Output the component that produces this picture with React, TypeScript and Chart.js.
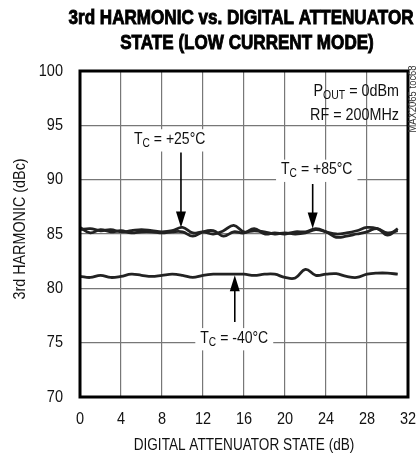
import React, { useEffect, useRef } from "react";
import { Chart, registerables } from "chart.js";

Chart.register(...registerables);

const states = [0, 1, 2, 3, 4, 5, 6, 7, 8, 9, 10, 11, 12, 13, 14, 15, 16, 17, 18, 19, 20, 21, 22, 23, 24, 25, 26, 27, 28, 29, 30, 31];
const harmonic25 = [85.4, 85.5, 85.3, 85.4, 85.2, 85.3, 85.4, 85.3, 85.2, 85.3, 85.6, 85.1, 85.2, 85.0, 85.3, 85.8, 85.2, 85.3, 85.2, 85.0, 85.1, 85.0, 85.1, 85.4, 85.2, 85.0, 85.1, 85.3, 85.6, 85.5, 85.1, 85.3];
const harmonic85 = [85.6, 85.1, 85.4, 85.2, 85.3, 85.1, 85.2, 85.2, 85.1, 85.2, 85.2, 84.8, 85.2, 85.3, 84.8, 85.2, 85.1, 85.5, 85.0, 85.1, 85.0, 85.2, 85.2, 85.5, 85.2, 84.7, 84.8, 85.0, 85.2, 85.5, 84.9, 85.5];
const harmonicM40 = [81.1, 81.0, 81.2, 81.0, 81.1, 81.3, 81.2, 81.1, 81.2, 81.3, 81.2, 81.0, 81.2, 81.3, 81.3, 81.3, 81.3, 81.2, 81.3, 81.3, 81.0, 80.95, 81.75, 81.2, 81.3, 81.35, 81.1, 81.0, 81.3, 81.4, 81.4, 81.3];

const xTicks = [0, 4, 8, 12, 16, 20, 24, 28, 32];
const yTicks = [70, 75, 80, 85, 90, 95, 100];

const titleLines = ["3rd HARMONIC vs. DIGITAL ATTENUATOR", "STATE (LOW CURRENT MODE)"];
const xTitle = "DIGITAL ATTENUATOR STATE (dB)";
const yTitle = "3rd HARMONIC (dBc)";

const FAMILY = "'Liberation Sans', Arimo, Arial, sans-serif";
const SX = 0.85;

type Part = { t: string; sub?: boolean };

function drawParts(
  ctx: CanvasRenderingContext2D,
  parts: Part[],
  x: number,
  y: number,
  align: "left" | "center" | "right",
  size: number,
  opts: { bold?: boolean; sx?: number; bg?: boolean; color?: string } = {}
) {
  const sx = opts.sx ?? SX;
  const subSize = Math.round(size * 0.72);
  const weight = opts.bold ? "bold " : "";
  let total = 0;
  const widths = parts.map((p) => {
    ctx.font = `${weight}${p.sub ? subSize : size}px ${FAMILY}`;
    const w = ctx.measureText(p.t).width * sx;
    total += w;
    return w;
  });
  let sx0 = x;
  if (align === "center") sx0 = x - total / 2;
  if (align === "right") sx0 = x - total;
  if (opts.bg) {
    ctx.fillStyle = "#fff";
    ctx.fillRect(sx0 - 5, y - size * 0.62, total + 10, size * 1.35);
  }
  ctx.fillStyle = opts.color ?? "#111";
  ctx.textBaseline = "middle";
  ctx.textAlign = "left";
  let cx = sx0;
  parts.forEach((p, i) => {
    ctx.save();
    ctx.font = `${weight}${p.sub ? subSize : size}px ${FAMILY}`;
    ctx.translate(cx, p.sub ? y + size * 0.24 : y);
    ctx.scale(sx, 1);
    ctx.fillText(p.t, 0, 0);
    ctx.restore();
    cx += widths[i];
  });
  return total;
}

function arrow(ctx: CanvasRenderingContext2D, x: number, y0: number, y1: number) {
  ctx.save();
  ctx.strokeStyle = "#000";
  ctx.fillStyle = "#000";
  ctx.lineWidth = 1.6;
  const dir = y1 > y0 ? 1 : -1;
  ctx.beginPath();
  ctx.moveTo(x, y0);
  ctx.lineTo(x, y1 - dir * 12);
  ctx.stroke();
  ctx.beginPath();
  ctx.moveTo(x, y1);
  ctx.lineTo(x - 5, y1 - dir * 16);
  ctx.lineTo(x + 5, y1 - dir * 16);
  ctx.closePath();
  ctx.fill();
  ctx.restore();
}

const decor = {
  id: "decor",
  afterDraw(chart: any) {
    const ctx: CanvasRenderingContext2D = chart.ctx;
    const xs = chart.scales.x;
    const ys = chart.scales.y;
    const a = chart.chartArea;
    ctx.save();

    // title (bold condensed)
    ctx.font = `bold 20px ${FAMILY}`;
    const tsx = 345 / ctx.measureText(titleLines[0]).width;
    [
      [titleLines[0], 241, 18],
      [titleLines[1], 247, 43],
    ].forEach(([s, x, y]) => {
      ctx.save();
      ctx.font = `bold 20px ${FAMILY}`;
      const w = ctx.measureText(s as string).width * tsx;
      ctx.translate((x as number) - w / 2, y as number);
      ctx.scale(tsx, 1);
      ctx.textAlign = "left";
      ctx.textBaseline = "middle";
      ctx.fillStyle = "#000";
      ctx.strokeStyle = "#000";
      ctx.lineWidth = 0.9;
      ctx.fillText(s as string, 0, 0);
      ctx.strokeText(s as string, 0, 0);
      ctx.restore();
    });

    // frame
    ctx.strokeStyle = "#000";
    ctx.lineWidth = 3;
    ctx.strokeRect(a.left, a.top, a.right - a.left, a.bottom - a.top);

    // tick labels
    yTicks.forEach((v) => drawParts(ctx, [{ t: String(v) }], 63, ys.getPixelForValue(v), "right", 16.5, { sx: 0.88 }));
    xTicks.forEach((v) => drawParts(ctx, [{ t: String(v) }], xs.getPixelForValue(v), 419, "center", 16.5, { sx: 0.88 }));

    // axis titles
    drawParts(ctx, [{ t: xTitle }], (a.left + a.right) / 2, 446, "center", 16);
    ctx.save();
    ctx.translate(20, 229);
    ctx.rotate(-Math.PI / 2);
    drawParts(ctx, [{ t: yTitle }], 0, 0, "center", 16.5, { sx: 0.87 });
    ctx.restore();

    // annotations
    drawParts(ctx, [{ t: "T" }, { t: "C", sub: true }, { t: " = +25°C" }], xs.getPixelForValue(8.75), ys.getPixelForValue(93.7), "center", 16.5, { bg: true });
    arrow(ctx, xs.getPixelForValue(9.85), ys.getPixelForValue(92.5), ys.getPixelForValue(85.6));
    drawParts(ctx, [{ t: "T" }, { t: "C", sub: true }, { t: " = +85°C" }], xs.getPixelForValue(23.1), ys.getPixelForValue(90.9), "center", 16.5, { bg: true });
    arrow(ctx, xs.getPixelForValue(22.7), ys.getPixelForValue(89.6), ys.getPixelForValue(85.5));
    drawParts(ctx, [{ t: "T" }, { t: "C", sub: true }, { t: " = -40°C" }], xs.getPixelForValue(15.05), ys.getPixelForValue(75.4), "center", 16.5, { bg: true });
    arrow(ctx, xs.getPixelForValue(15.1), ys.getPixelForValue(76.9), ys.getPixelForValue(81.2));
    drawParts(ctx, [{ t: "P" }, { t: "OUT", sub: true }, { t: " = 0dBm" }], 399, ys.getPixelForValue(98.1), "right", 16.5, { sx: 0.87 });
    drawParts(ctx, [{ t: "RF = 200MHz" }], 399, ys.getPixelForValue(95.95), "right", 16.5, { sx: 0.87 });

    // side code
    ctx.save();
    ctx.translate(413, 99);
    ctx.rotate(-Math.PI / 2);
    drawParts(ctx, [{ t: "MAX2065 toc68" }], 0, 0, "center", 10.5, { sx: 0.9, color: "#333" });
    ctx.restore();
    ctx.restore();
  },
};

export default function App() {
  const ref = useRef<HTMLCanvasElement | null>(null);
  useEffect(() => {
    if (!ref.current) return;
    const mk = (vals: number[]) => states.map((s, i) => ({ x: s, y: vals[i] }));
    const ds = (label: string, vals: number[]) => ({
      label,
      data: mk(vals),
      borderColor: "#222",
      borderWidth: 2.8,
      pointRadius: 0,
      tension: 0.4,
      fill: false,
    });
    const chart = new Chart(ref.current, {
      type: "line",
      data: {
        datasets: [ds("TC = +25°C", harmonic25), ds("TC = +85°C", harmonic85), ds("TC = -40°C", harmonicM40)],
      },
      options: {
        responsive: false,
        animation: false,
        layout: { padding: { top: 71, left: 0, right: 12, bottom: 0 } },
        plugins: { legend: { display: false }, tooltip: { enabled: false }, title: { display: false } },
        scales: {
          x: {
            type: "linear",
            min: 0,
            max: 32,
            afterBuildTicks: (s: any) => {
              s.ticks = xTicks.map((v) => ({ value: v }));
            },
            afterFit: (s: any) => {
              s.height = 59;
            },
            grid: { color: "#777", lineWidth: 1.2, drawTicks: false },
            border: { display: false },
            ticks: { display: false },
          },
          y: {
            type: "linear",
            min: 70,
            max: 100,
            afterBuildTicks: (s: any) => {
              s.ticks = yTicks.map((v) => ({ value: v }));
            },
            afterFit: (s: any) => {
              s.width = 80;
            },
            grid: { color: "#777", lineWidth: 1.2, drawTicks: false },
            border: { display: false },
            ticks: { display: false },
          },
        },
      },
      plugins: [decor],
    });
    return () => chart.destroy();
  }, []);
  return (
    <div style={{ position: "absolute", left: 0, top: 0, width: 420, height: 456, background: "#fff" }}>
      <canvas ref={ref} width={420} height={456} style={{ width: 420, height: 456, display: "block" }} />
    </div>
  );
}
